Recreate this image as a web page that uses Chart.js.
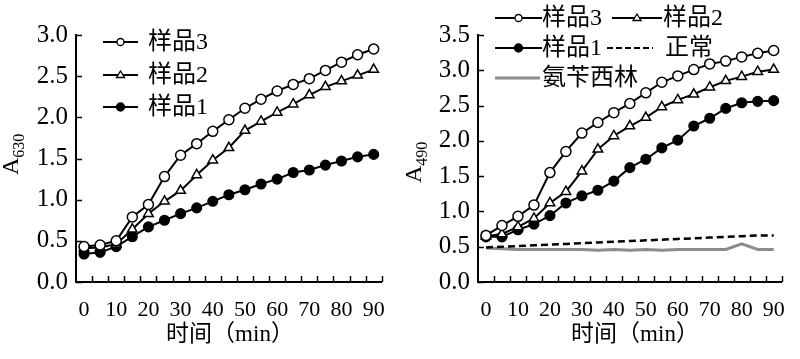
<!DOCTYPE html>
<html>
<head>
<meta charset="utf-8">
<script src="https://cdn.jsdelivr.net/npm/chart.js@4.4.0/dist/chart.umd.min.js"></script>
<style>
  html, body { margin: 0; padding: 0; background: #fff; }
  #wrap { position: relative; width: 800px; height: 359px; }
  canvas { position: absolute; top: 0; }
  #left { left: 0; }
  #right { left: 400px; }
</style>
</head>
<body>
<div id="wrap">
  <canvas id="left" width="400" height="359"></canvas>
  <canvas id="right" width="400" height="359"></canvas>
</div>
<script>
// time points (min) and x tick labels
const minutes = [0, 5, 10, 15, 20, 25, 30, 35, 40, 45, 50, 55, 60, 65, 70, 75, 80, 85, 90];
const xTickLabels = [0, 10, 20, 30, 40, 50, 60, 70, 80, 90];

// left panel, A630
const leftSample3 = [0.43, 0.45, 0.50, 0.79, 0.94, 1.28, 1.54, 1.68, 1.83, 1.97, 2.11, 2.22, 2.32, 2.40, 2.47, 2.57, 2.67, 2.76, 2.83];
const leftSample2 = [0.41, 0.42, 0.46, 0.64, 0.83, 0.98, 1.11, 1.30, 1.48, 1.63, 1.84, 1.95, 2.06, 2.16, 2.27, 2.37, 2.44, 2.51, 2.58];
const leftSample1 = [0.34, 0.36, 0.43, 0.55, 0.67, 0.75, 0.83, 0.90, 0.98, 1.06, 1.12, 1.19, 1.25, 1.33, 1.36, 1.42, 1.47, 1.52, 1.55];
const leftYTicks = [0, 0.5, 1.0, 1.5, 2.0, 2.5, 3.0];

// right panel, A490
const rightSample3 = [0.66, 0.80, 0.93, 1.09, 1.55, 1.85, 2.11, 2.26, 2.40, 2.53, 2.68, 2.83, 2.92, 3.01, 3.09, 3.13, 3.19, 3.24, 3.28];
const rightSample2 = [0.65, 0.68, 0.78, 0.90, 1.12, 1.28, 1.57, 1.88, 2.07, 2.21, 2.33, 2.48, 2.58, 2.66, 2.76, 2.85, 2.91, 2.98, 3.01];
const rightSample1 = [0.64, 0.64, 0.74, 0.82, 0.94, 1.12, 1.22, 1.30, 1.43, 1.62, 1.74, 1.90, 2.01, 2.21, 2.32, 2.46, 2.54, 2.56, 2.57];
const rightNormal = [0.49, 0.50, 0.51, 0.52, 0.53, 0.54, 0.55, 0.56, 0.57, 0.58, 0.59, 0.60, 0.61, 0.62, 0.63, 0.64, 0.65, 0.66, 0.66];
const rightAmpicillin = [0.48, 0.47, 0.46, 0.46, 0.46, 0.46, 0.46, 0.45, 0.46, 0.45, 0.46, 0.45, 0.46, 0.46, 0.46, 0.46, 0.54, 0.46, 0.46];
const rightYTicks = [0, 0.5, 1.0, 1.5, 2.0, 2.5, 3.0, 3.5];

const serif = '"Liberation Serif", "Noto Sans CJK SC", serif';

function pairs(values) {
  return minutes.map((m, i) => ({ x: m, y: values[i] }));
}

function lineSet(label, values, style) {
  return Object.assign({
    label: label,
    data: pairs(values),
    borderColor: '#000',
    borderWidth: 2,
    pointRadius: 5,
    pointBorderWidth: 1.5,
    pointBorderColor: '#000',
    pointBackgroundColor: '#fff',
    tension: 0
  }, style);
}

// small marker for the hand placed legend
function drawMarker(ctx, kind, x, y) {
  ctx.save();
  ctx.lineWidth = 1.3;
  ctx.strokeStyle = '#000';
  ctx.beginPath();
  if (kind === 'open') {
    ctx.fillStyle = '#fff';
    ctx.arc(x, y, 3.5, 0, Math.PI * 2);
  } else if (kind === 'filled') {
    ctx.fillStyle = '#000';
    ctx.arc(x, y, 4, 0, Math.PI * 2);
  } else if (kind === 'triangle') {
    ctx.fillStyle = '#fff';
    ctx.moveTo(x, y - 4);
    ctx.lineTo(x + 4, y + 2.5);
    ctx.lineTo(x - 4, y + 2.5);
    ctx.closePath();
  } else {
    ctx.restore();
    return;
  }
  ctx.fill();
  ctx.stroke();
  ctx.restore();
}

// tick marks pointing inward, y title with subscript, x title, legend
const decor = {
  id: 'decor',
  afterDatasetsDraw(chart, args, opts) {
    const ctx = chart.ctx;
    const xs = chart.scales.x, ys = chart.scales.y;
    const area = chart.chartArea;
    ctx.save();
    ctx.strokeStyle = '#000';
    ctx.lineWidth = 1.5;
    for (let v = 2.5; v <= 92.5; v += 5) {
      const px = Math.round(xs.getPixelForValue(v)) + 0.5;
      ctx.beginPath();
      ctx.moveTo(px, area.bottom);
      ctx.lineTo(px, area.bottom - 6);
      ctx.stroke();
    }
    opts.yTicks.forEach(v => {
      const py = Math.round(ys.getPixelForValue(v)) + 0.5;
      ctx.beginPath();
      ctx.moveTo(area.left, py);
      ctx.lineTo(area.left + 6, py);
      ctx.stroke();
    });

    // y title, A with subscript, read bottom to top
    ctx.fillStyle = '#000';
    ctx.translate(opts.yTitleX, opts.yTitleY);
    ctx.rotate(-Math.PI / 2);
    ctx.textBaseline = 'alphabetic';
    ctx.textAlign = 'left';
    ctx.font = '24px ' + serif;
    ctx.fillText('A', 0, 0);
    const w = ctx.measureText('A').width;
    ctx.font = '16px ' + serif;
    ctx.fillText(opts.ySub, w, 6);
    ctx.restore();

    // x title
    ctx.save();
    ctx.fillStyle = '#000';
    ctx.font = '23px ' + serif;
    ctx.textAlign = 'center';
    ctx.textBaseline = 'middle';
    ctx.fillText('时间（min）', opts.xTitleX, 335);

    // legend
    ctx.font = '24px ' + serif;
    ctx.textAlign = 'left';
    opts.legend.forEach(item => {
      ctx.save();
      ctx.strokeStyle = item.color || '#000';
      ctx.lineWidth = item.width || 2;
      ctx.setLineDash(item.dash || []);
      ctx.beginPath();
      ctx.moveTo(item.x0, item.y);
      ctx.lineTo(item.x1, item.y);
      ctx.stroke();
      ctx.restore();
      drawMarker(ctx, item.marker, (item.x0 + item.x1) / 2, item.y);
      ctx.fillStyle = '#000';
      ctx.fillText(item.text, item.tx, item.y + 1);
    });
    ctx.restore();
  }
};

function makeChart(id, datasets, yMax, yTicks, decorOpts, yWidth) {
  return new Chart(document.getElementById(id), {
    type: 'line',
    data: { datasets: datasets },
    options: {
      responsive: false,
      animation: false,
      layout: { padding: { left: 0, top: 35, right: 12, bottom: 0 } },
      plugins: {
        legend: { display: false },
        tooltip: { enabled: false },
        decor: decorOpts
      },
      scales: {
        x: {
          type: 'linear',
          min: -2.5,
          max: 92.5,
          afterBuildTicks: s => { s.ticks = xTickLabels.map(v => ({ value: v })); },
          afterFit: s => { s.height = 359 - 282; },
          grid: { display: false, drawTicks: false },
          border: { display: true, color: '#000', width: 2 },
          ticks: { color: '#000', font: { family: serif, size: 22 }, padding: 15, maxRotation: 0, autoSkip: false }
        },
        y: {
          min: 0,
          max: yMax,
          afterBuildTicks: s => { s.ticks = yTicks.map(v => ({ value: v })); },
          afterFit: s => { s.width = yWidth; },
          grid: { display: false, drawTicks: false },
          border: { display: true, color: '#000', width: 2 },
          ticks: { color: '#000', font: { family: serif, size: 25 }, padding: 8, callback: v => v.toFixed(1) }
        }
      }
    },
    plugins: [decor]
  });
}

makeChart('left', [
  lineSet('样品3', leftSample3, {}),
  lineSet('样品2', leftSample2, { pointStyle: 'triangle', pointRadius: 5.5 }),
  lineSet('样品1', leftSample1, { pointBackgroundColor: '#000', pointRadius: 4.8 })
], 3.0, leftYTicks, {
  yTicks: leftYTicks,
  ySub: '630',
  yTitleX: 18,
  yTitleY: 175,
  xTitleX: 230,
  legend: [
    { text: '样品3', marker: 'open', x0: 103, x1: 138, tx: 148, y: 42 },
    { text: '样品2', marker: 'triangle', x0: 103, x1: 138, tx: 148, y: 75 },
    { text: '样品1', marker: 'filled', x0: 103, x1: 138, tx: 148, y: 107 }
  ]
}, 76);

makeChart('right', [
  lineSet('样品3', rightSample3, {}),
  lineSet('样品2', rightSample2, { pointStyle: 'triangle', pointRadius: 5.5 }),
  lineSet('样品1', rightSample1, { pointBackgroundColor: '#000', pointRadius: 4.8 }),
  lineSet('正常', rightNormal, { pointRadius: 0, borderWidth: 2.5, borderDash: [7, 4] }),
  lineSet('氨苄西林', rightAmpicillin, { pointRadius: 0, borderColor: '#8c8c8c', borderWidth: 3 })
], 3.5, rightYTicks, {
  yTicks: rightYTicks,
  ySub: '490',
  yTitleX: 21,
  yTitleY: 183,
  xTitleX: 235,
  legend: [
    { text: '样品3', marker: 'open', x0: 95, x1: 142, tx: 142, y: 18 },
    { text: '样品2', marker: 'triangle', x0: 212, x1: 262, tx: 263, y: 18 },
    { text: '样品1', marker: 'filled', x0: 95, x1: 142, tx: 142, y: 48 },
    { text: '正常', marker: 'none', x0: 207, x1: 253, tx: 265, y: 48, dash: [6, 3] },
    { text: '氨苄西林', marker: 'none', x0: 95, x1: 140, tx: 142, y: 78, color: '#8c8c8c', width: 3 }
  ]
}, 78);
</script>
</body>
</html>
